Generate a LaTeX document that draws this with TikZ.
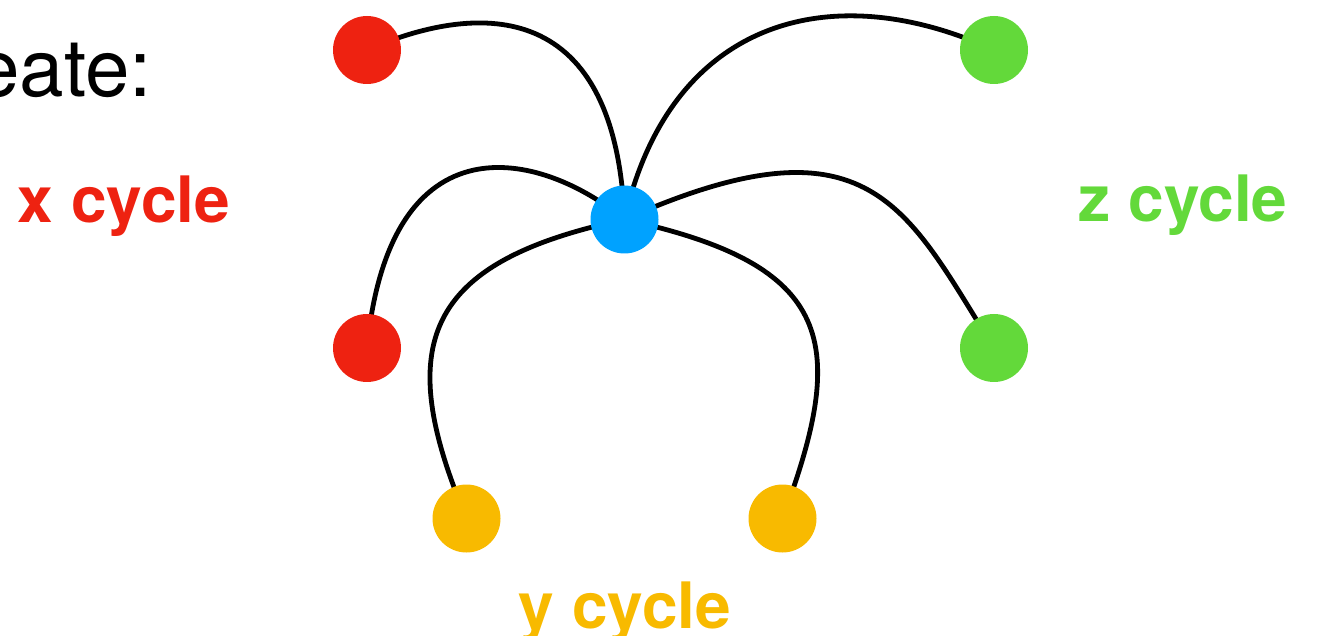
\documentclass[tikz,border=0pt]{standalone}
\usepackage{fontspec}
\setmainfont{TeX Gyre Heros}
\usetikzlibrary{backgrounds}
\definecolor{xred}{RGB}{238,34,17}
\definecolor{zgreen}{RGB}{99,217,58}
\definecolor{yyellow}{RGB}{248,186,0}
\definecolor{hub}{RGB}{0,162,255}
\begin{document}
\begin{tikzpicture}[x=1pt,y=-1pt,
  dot/.style={circle,inner sep=0pt,minimum size=68pt},
  link/.style={line width=4.8pt,black},
  lbl/.style={font=\fontsize{64}{64}\selectfont\bfseries,inner sep=0pt,anchor=base}]
\useasboundingbox (0,0) rectangle (1318,636);

% heading (partly outside the frame)
\node[font=\fontsize{80}{80}\selectfont,inner sep=0pt,anchor=base west] (head) at (-25,97) {eate:};

% vertices
\node[dot,fill=hub] (c) at (624.5,219.5) {};
\node[dot,fill=xred] (x1) at (367,50) {};
\node[dot,fill=xred] (x2) at (367,348) {};
\node[dot,fill=zgreen] (z1) at (994,50) {};
\node[dot,fill=zgreen] (z2) at (994,348) {};
\node[dot,fill=yyellow] (y1) at (466.5,518.5) {};
\node[dot,fill=yyellow] (y2) at (782.5,518.5) {};

% edges from the centre vertex, drawn behind the vertices
\begin{scope}[on background layer]
\draw[link] (c.center) .. controls (615,-10) and (470,5) .. (x1.center);
\draw[link] (c.center) .. controls (670,20) and (830,-25) .. (z1.center);
\draw[link] (c.center) .. controls (540,150) and (390,115) .. (x2.center);
\draw[link] (c.center) .. controls (871,110) and (906,208) .. (z2.center);
\draw[link] (c.center) .. controls (423,262) and (393,345) .. (y1.center);
\draw[link] (c.center) .. controls (836,265) and (848,343) .. (y2.center);
\end{scope}

% cycle labels
\node[lbl,text=xred] (xl) at (124,223) {x cycle};
\node[lbl,text=zgreen] (zl) at (1183,222) {z cycle};
\node[lbl,text=yyellow] (yl) at (625,628) {y cycle};
\end{tikzpicture}
\end{document}
